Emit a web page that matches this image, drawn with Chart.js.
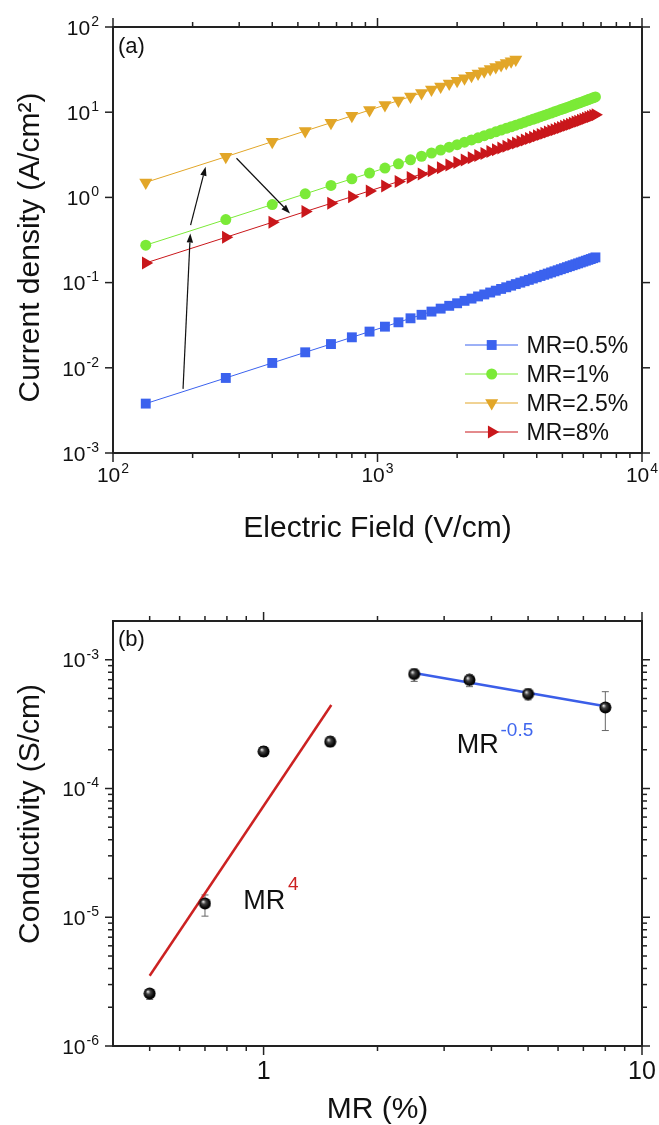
<!DOCTYPE html>
<html lang="en">
<head>
    <meta charset="UTF-8">
    <title>Current density and conductivity vs MR</title>
    <script src="https://cdn.jsdelivr.net/npm/chart.js"></script>
    <style>
        html, body { margin: 0; padding: 0; background: #fff; }
        .wrap { position: relative; width: 659px; height: 1125px; }
        #chartA { position: absolute; left: 0; top: 0; }
        #chartB { position: absolute; left: 0; top: 560px; }
    </style>
</head>
<body>
<div class="wrap">
    <canvas id="chartA" width="659" height="560"></canvas>
    <canvas id="chartB" width="659" height="565"></canvas>
</div>
<script>
    // ---- panel (a): J vs E ----
    const fieldValues = [133, 267, 400, 533, 667, 800, 933, 1067, 1200, 1333, 1467, 1600, 1733, 1867, 2000,
        2133, 2267, 2400, 2533, 2667, 2800, 2933, 3067, 3200, 3333, 3467, 3600, 3733, 3867, 4000,
        4133, 4267, 4400, 4533, 4667, 4800, 4933, 5067, 5200, 5333, 5467, 5600, 5733, 5867, 6000,
        6133, 6267, 6400, 6533, 6667];
    const jMR05 = [0.0038, 0.0076, 0.0114, 0.0152, 0.0190, 0.0228, 0.0266, 0.0304, 0.0342, 0.0381,
        0.0419, 0.0457, 0.0495, 0.0534, 0.0572, 0.0611, 0.0649, 0.0688, 0.0726, 0.0765,
        0.0804, 0.0843, 0.0881, 0.0920, 0.0960, 0.0999, 0.1038, 0.1077, 0.1117, 0.1156,
        0.1196, 0.1236, 0.1276, 0.1316, 0.1356, 0.1396, 0.1437, 0.1477, 0.1518, 0.1559,
        0.1600, 0.1641, 0.1682, 0.1724, 0.1765, 0.1807, 0.1849, 0.1891, 0.1934, 0.1976];
    const jMR1 = [0.275, 0.550, 0.825, 1.10, 1.38, 1.65, 1.93, 2.21, 2.48, 2.76,
        3.04, 3.32, 3.60, 3.88, 4.16, 4.45, 4.73, 5.01, 5.30, 5.59,
        5.88, 6.17, 6.46, 6.75, 7.05, 7.34, 7.64, 7.94, 8.24, 8.55,
        8.85, 9.16, 9.47, 9.78, 10.10, 10.41, 10.73, 11.05, 11.38, 11.70,
        12.03, 12.37, 12.70, 13.04, 13.38, 13.72, 14.07, 14.42, 14.77, 15.13];
    const jMR25 = [1.50, 3.00, 4.51, 6.02, 7.53, 9.06, 10.59, 12.14, 13.69, 15.26,
        16.85, 18.46, 20.08, 21.72, 23.39, 25.08, 26.80, 28.54, 30.31, 32.11,
        33.94, 35.81, 37.71, 39.65, 41.63];
    const jMR8 = [0.170, 0.340, 0.510, 0.681, 0.851, 1.021, 1.192, 1.364, 1.535, 1.707,
        1.879, 2.052, 2.225, 2.399, 2.573, 2.748, 2.923, 3.100, 3.276, 3.454,
        3.633, 3.812, 3.993, 4.174, 4.356, 4.539, 4.724, 4.909, 5.096, 5.284,
        5.473, 5.663, 5.854, 6.047, 6.24, 6.44, 6.63, 6.83, 7.03, 7.23,
        7.44, 7.65, 7.85, 8.06, 8.27, 8.48, 8.70, 8.91, 9.13, 9.35];
    const seriesLabels = ['MR=0.5%', 'MR=1%', 'MR=2.5%', 'MR=8%'];
    // arrows: [x0, y0, x1, y1] in data units
    const arrowsA = [[184, 0.00566, 196, 0.377], [196.5, 0.472, 224, 2.29], [293, 2.88, 467, 0.648]];
    const fieldDecades = [1e2, 1e3, 1e4];
    const fieldExps = ['2', '3', '4'];
    const currentDecades = [1e-3, 1e-2, 1e-1, 1e0, 1e1, 1e2];
    const currentExps = ['-3', '-2', '-1', '0', '1', '2'];

    // ---- panel (b): conductivity vs MR ----
    const mrValues = [0.5, 0.7, 1.0, 1.5, 2.5, 3.5, 5.0, 8.0];
    const sigma = [2.56e-6, 1.28e-5, 1.94e-4, 2.31e-4, 7.75e-4, 6.97e-4, 5.42e-4, 4.26e-4];
    const sigmaHigh = [2.72e-6, 1.49e-5, 2.12e-4, 2.53e-4, 8.47e-4, 7.65e-4, 5.93e-4, 5.65e-4];
    const sigmaLow = [2.30e-6, 1.02e-5, 1.77e-4, 2.12e-4, 6.79e-4, 6.18e-4, 4.88e-4, 2.82e-4];
    const fitLowMR = [0.5, 1.51];
    const fitLowSigma = [3.51e-6, 4.45e-4];
    const fitHighMR = [2.5, 8.0];
    const fitHighSigma = [7.89e-4, 4.35e-4];
    const mrDecades = [1, 10];
    const mrLabels = ['1', '10'];
    const sigmaDecades = [1e-6, 1e-5, 1e-4, 1e-3];
    const sigmaExps = ['-6', '-5', '-4', '-3'];

    const FONT = 'Arial, "Liberation Sans", Helvetica, sans-serif';
    const BLUE = '#3b62ee', GREEN = '#7bea37', YELLOW = '#e2a628', RED = '#c9171b';

    function minorTicks(min, max) {
        const out = [];
        for (let d = Math.floor(Math.log10(min)); d <= Math.ceil(Math.log10(max)); d++) {
            for (let k = 2; k <= 9; k++) {
                const v = k * Math.pow(10, d);
                if (v > min * 1.0001 && v < max * 0.9999) out.push(v);
            }
        }
        return out;
    }

    function toPoints(xs, ys) {
        return ys.map((y, i) => ({ x: xs[i], y: y }));
    }

    // 10^n label, align: 'right' (y axis) or 'center' (x axis)
    function drawPow(ctx, exp, x, baseline, align, size, supSize) {
        ctx.font = size + 'px ' + FONT;
        const w1 = ctx.measureText('10').width;
        ctx.font = supSize + 'px ' + FONT;
        const w2 = ctx.measureText(exp).width;
        const total = w1 + w2 + 1;
        const left = align === 'right' ? x - total : x - total / 2;
        ctx.textAlign = 'left';
        ctx.textBaseline = 'alphabetic';
        ctx.font = size + 'px ' + FONT;
        ctx.fillText('10', left, baseline);
        ctx.font = supSize + 'px ' + FONT;
        ctx.fillText(exp, left + w1 + 1, baseline - size * 0.42);
    }

    function drawFrame(chart, cfg) {
        const ctx = chart.ctx;
        const a = chart.chartArea;
        const xs = chart.scales.x, ys = chart.scales.y;
        ctx.save();
        ctx.strokeStyle = '#222';
        ctx.lineWidth = 1.5;
        const tick = (x0, y0, x1, y1) => { ctx.beginPath(); ctx.moveTo(x0, y0); ctx.lineTo(x1, y1); ctx.stroke(); };
        cfg.xMajor.forEach(v => {
            const p = xs.getPixelForValue(v);
            tick(p, a.bottom, p, a.bottom + 9);
            tick(p, a.top, p, a.top - 9);
        });
        cfg.xMinor.forEach(v => {
            const p = xs.getPixelForValue(v);
            tick(p, a.bottom, p, a.bottom + 5);
            tick(p, a.top, p, a.top - 5);
        });
        cfg.yMajor.forEach(v => {
            const p = ys.getPixelForValue(v);
            tick(a.left, p, a.left - 8, p);
            tick(a.right, p, a.right + 8, p);
        });
        cfg.yMinor.forEach(v => {
            const p = ys.getPixelForValue(v);
            tick(a.left, p, a.left - 5, p);
            tick(a.right, p, a.right + 5, p);
        });
        ctx.lineWidth = 2;
        ctx.strokeRect(a.left, a.top, a.right - a.left, a.bottom - a.top);
        ctx.restore();
    }

    function drawArrow(ctx, x0, y0, x1, y1) {
        const ang = Math.atan2(y1 - y0, x1 - x0);
        const hl = 9, hw = 3.2;
        const bx = x1 - hl * Math.cos(ang), by = y1 - hl * Math.sin(ang);
        ctx.beginPath();
        ctx.moveTo(x0, y0);
        ctx.lineTo(bx, by);
        ctx.stroke();
        ctx.beginPath();
        ctx.moveTo(x1, y1);
        ctx.lineTo(bx + hw * Math.sin(ang), by - hw * Math.cos(ang));
        ctx.lineTo(bx - hw * Math.sin(ang), by + hw * Math.cos(ang));
        ctx.closePath();
        ctx.fill();
    }

    function drawMarker(ctx, ds, x, y) {
        if (window.Chart && Chart.helpers && Chart.helpers.drawPoint) {
            Chart.helpers.drawPoint(ctx, {
                pointStyle: ds.pointStyle, rotation: ds.pointRotation || 0,
                radius: ds.pointRadius, borderWidth: 0
            }, x, y);
        } else {
            ctx.beginPath();
            ctx.arc(x, y, 5, 0, Math.PI * 2);
            ctx.fill();
        }
    }

    // ---------- chart (a) ----------
    const decorA = {
        id: 'decorA',
        afterDraw(chart) {
            const ctx = chart.ctx;
            const xs = chart.scales.x, ys = chart.scales.y;
            const a = chart.chartArea;
            drawFrame(chart, {
                xMajor: fieldDecades, xMinor: minorTicks(1e2, 1e4),
                yMajor: currentDecades, yMinor: []
            });
            ctx.save();
            ctx.fillStyle = '#111';
            currentDecades.forEach((v, i) => {
                drawPow(ctx, currentExps[i], 99, ys.getPixelForValue(v) + 7.7, 'right', 21, 14);
            });
            fieldDecades.forEach((v, i) => {
                drawPow(ctx, fieldExps[i], xs.getPixelForValue(v), 482, 'center', 21, 14);
            });
            // axis titles
            ctx.font = '30px ' + FONT;
            ctx.textAlign = 'center';
            ctx.textBaseline = 'alphabetic';
            ctx.fillText('Electric Field (V/cm)', (a.left + a.right) / 2, 536.5);
            ctx.save();
            ctx.translate(39, 247.5);
            ctx.rotate(-Math.PI / 2);
            ctx.fillText('Current density (A/cm\u00B2)', 0, 0);
            ctx.restore();
            // panel tag
            ctx.font = '22px ' + FONT;
            ctx.textAlign = 'left';
            ctx.fillText('(a)', 118, 53);
            // arrows
            ctx.strokeStyle = '#111';
            ctx.lineWidth = 1.2;
            arrowsA.forEach(ar => {
                drawArrow(ctx, xs.getPixelForValue(ar[0]), ys.getPixelForValue(ar[1]),
                    xs.getPixelForValue(ar[2]), ys.getPixelForValue(ar[3]));
            });
            // legend
            chart.data.datasets.forEach((ds, i) => {
                const yRow = 345 + i * 29;
                ctx.strokeStyle = ds.borderColor;
                ctx.lineWidth = 1;
                ctx.beginPath();
                ctx.moveTo(465, yRow);
                ctx.lineTo(518, yRow);
                ctx.stroke();
                ctx.fillStyle = ds.backgroundColor;
                drawMarker(ctx, ds, 491.7, yRow);
                ctx.fillStyle = '#111';
                ctx.font = '23px ' + FONT;
                ctx.textAlign = 'left';
                ctx.fillText(seriesLabels[i], 526.5, yRow + 8);
            });
            ctx.restore();
        }
    };

    function seriesA(label, ys, color, style, radius, rotation) {
        return {
            label: label,
            data: toPoints(fieldValues, ys),
            borderColor: color,
            backgroundColor: color,
            borderWidth: 1,
            pointStyle: style,
            pointRadius: radius,
            pointRotation: rotation,
            pointBorderWidth: 0,
            pointHoverRadius: radius,
            tension: 0
        };
    }

    new Chart(document.getElementById('chartA'), {
        type: 'line',
        data: {
            datasets: [
                seriesA(seriesLabels[0], jMR05, BLUE, 'rect', 7, 0),
                seriesA(seriesLabels[1], jMR1, GREEN, 'circle', 5.5, 0),
                seriesA(seriesLabels[2], jMR25, YELLOW, 'triangle', 7.5, 180),
                seriesA(seriesLabels[3], jMR8, RED, 'triangle', 7.5, 90)
            ]
        },
        options: {
            responsive: false,
            animation: false,
            layout: { padding: { left: 113, right: 17, top: 27, bottom: 107 } },
            plugins: { legend: { display: false }, tooltip: { enabled: false } },
            scales: {
                x: { type: 'logarithmic', min: 100, max: 10000, display: false },
                y: { type: 'logarithmic', min: 1e-3, max: 100, display: false }
            }
        },
        plugins: [decorA]
    });

    // ---------- chart (b) ----------
    function sphereImage() {
        const c = document.createElement('canvas');
        c.width = 13; c.height = 13;
        const g = c.getContext('2d');
        const grad = g.createRadialGradient(4.6, 4.6, 0.3, 6.5, 6.5, 6.5);
        grad.addColorStop(0, '#e6e6e6');
        grad.addColorStop(0.3, '#444');
        grad.addColorStop(0.7, '#0a0a0a');
        grad.addColorStop(1, '#000');
        g.fillStyle = grad;
        g.beginPath();
        g.arc(6.5, 6.5, 6, 0, Math.PI * 2);
        g.fill();
        return c;
    }

    const decorB = {
        id: 'decorB',
        beforeDatasetsDraw(chart) {
            const ctx = chart.ctx;
            const xs = chart.scales.x, ys = chart.scales.y;
            ctx.save();
            ctx.strokeStyle = '#666';
            ctx.lineWidth = 1;
            mrValues.forEach((m, i) => {
                const x = xs.getPixelForValue(m);
                const yh = ys.getPixelForValue(sigmaHigh[i]);
                const yl = ys.getPixelForValue(sigmaLow[i]);
                ctx.beginPath();
                ctx.moveTo(x, yh); ctx.lineTo(x, yl);
                ctx.moveTo(x - 3.5, yh); ctx.lineTo(x + 3.5, yh);
                ctx.moveTo(x - 3.5, yl); ctx.lineTo(x + 3.5, yl);
                ctx.stroke();
            });
            ctx.restore();
        },
        afterDraw(chart) {
            const ctx = chart.ctx;
            const xs = chart.scales.x, ys = chart.scales.y;
            const a = chart.chartArea;
            drawFrame(chart, {
                xMajor: mrDecades, xMinor: minorTicks(0.4, 10),
                yMajor: sigmaDecades, yMinor: minorTicks(1e-6, 2e-3)
            });
            ctx.save();
            ctx.fillStyle = '#111';
            sigmaDecades.forEach((v, i) => {
                drawPow(ctx, sigmaExps[i], 99, ys.getPixelForValue(v) + 7.7, 'right', 21, 14);
            });
            ctx.font = '25px ' + FONT;
            ctx.textAlign = 'center';
            ctx.textBaseline = 'alphabetic';
            mrDecades.forEach((v, i) => {
                ctx.fillText(mrLabels[i], xs.getPixelForValue(v), 518.5);
            });
            ctx.font = '30px ' + FONT;
            ctx.fillText('MR (%)', (a.left + a.right) / 2, 558);
            ctx.save();
            ctx.translate(39, 254);
            ctx.rotate(-Math.PI / 2);
            ctx.fillText('Conductivity (S/cm)', 0, 0);
            ctx.restore();
            ctx.textAlign = 'left';
            ctx.font = '22px ' + FONT;
            ctx.fillText('(b)', 118, 86);
            // power-law labels
            ctx.font = '27px ' + FONT;
            ctx.fillText('MR', 243.3, 349);
            ctx.fillText('MR', 456.7, 193.3);
            ctx.font = '19px ' + FONT;
            ctx.fillStyle = '#cc2222';
            ctx.fillText('4', 288, 330);
            ctx.fillStyle = '#3f66ee';
            ctx.fillText('-0.5', 500.5, 175.7);
            ctx.restore();
        }
    };

    new Chart(document.getElementById('chartB'), {
        type: 'line',
        data: {
            datasets: [
                {
                    label: 'data',
                    data: toPoints(mrValues, sigma),
                    showLine: false,
                    pointStyle: sphereImage(),
                    pointRadius: 6,
                    pointHoverRadius: 6
                },
                {
                    label: 'MR^4',
                    data: toPoints(fitLowMR, fitLowSigma),
                    borderColor: '#cc2222',
                    borderWidth: 2.5,
                    pointRadius: 0,
                    tension: 0
                },
                {
                    label: 'MR^-0.5',
                    data: toPoints(fitHighMR, fitHighSigma),
                    borderColor: '#3b5ee8',
                    borderWidth: 2.5,
                    pointRadius: 0,
                    tension: 0
                }
            ]
        },
        options: {
            responsive: false,
            animation: false,
            layout: { padding: { left: 113, right: 17, top: 61, bottom: 79 } },
            plugins: { legend: { display: false }, tooltip: { enabled: false } },
            scales: {
                x: { type: 'logarithmic', min: 0.4, max: 10, display: false },
                y: { type: 'logarithmic', min: 1e-6, max: 2e-3, display: false }
            }
        },
        plugins: [decorB]
    });
</script>
</body>
</html>
